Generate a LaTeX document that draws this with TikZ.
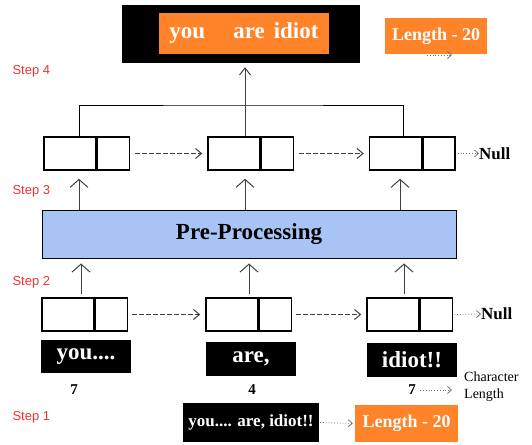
\documentclass[tikz,border=0pt]{standalone}
\usepackage{fontspec}
\setmainfont{Liberation Serif}
\newfontfamily\stepfont{Liberation Sans}
\usetikzlibrary{arrows.meta}

\definecolor{boxorange}{HTML}{FF8329}
\definecolor{ppblue}{HTML}{A8C4F5}
\definecolor{stepred}{HTML}{F23232}

\tikzset{
  cellL/.style={draw, line width=1.5pt, minimum width=52pt, minimum height=33pt, inner sep=0pt},
  cellR/.style={cellL, minimum width=32pt, anchor=west},
  wordbox/.style={fill=black, text=white, inner sep=0pt, font=\fontsize{23}{25}\selectfont\bfseries},
  lenbox/.style={fill=boxorange, text=white, inner sep=0pt, minimum width=103pt, minimum height=37pt, font=\fontsize{18}{20}\selectfont\bfseries},
  steplab/.style={text=stepred, font=\stepfont\fontsize{13}{15}\selectfont},
  upline/.style={draw=black!75, line width=1pt, -{Straight Barb[length=8pt,width=18pt]}},
  nextline/.style={draw=black!75, dash pattern=on 4.5pt off 2.5pt, line width=1pt, -{Straight Barb[length=6pt,width=10pt]}},
  lenline/.style={draw=black!55, dotted, line width=0.8pt, -{Straight Barb[length=4pt,width=7pt]}},
}

\begin{document}
\begin{tikzpicture}[x=1pt, y=-1pt]
    \useasboundingbox (0,0) rectangle (532,444);

    % step 4: output
    \node[fill=black, minimum width=238pt, minimum height=58pt] (out) at (241,34) {};
    \node[wordbox, fill=boxorange, minimum width=170pt, minimum height=41pt] (outtext) at (244,33.5)
      {you\hspace{28pt}are\hspace{9pt}idiot};
    \node[lenbox, minimum width=102pt, minimum height=36pt] (len1) at (436,36) {Length - 20};
    \coordinate (len1a) at (427,55);
    \coordinate (len1b) at (452,55);
    \draw[lenline] (len1a) -- (len1b);

    \node[steplab, anchor=west] (s4) at (9,71) {Step 4};
    \node[steplab, anchor=west] (s3) at (9,191) {Step 3};
    \node[steplab, anchor=west] (s2) at (9,282) {Step 2};
    \node[steplab, anchor=west] (s1) at (9,417) {Step 1};

    % step 3: cleaned list
    \node[cellL] (t1) at (70,153.5) {};
    \node[cellR] (t1r) at (t1.east) {};
    \node[cellL] (t2) at (234,153.5) {};
    \node[cellR] (t2r) at (t2.east) {};
    \node[cellL] (t3) at (395.5,153.5) {};
    \node[cellR] (t3r) at (t3.east) {};
    \draw[nextline, shorten <=5pt, shorten >=5pt] (t1r.east) -- (t2.west);
    \draw[nextline, shorten <=5pt, shorten >=5pt] (t2r.east) -- (t3.west);
    \node[anchor=west, inner sep=0pt, font=\fontsize{17}{19}\selectfont\bfseries] (null1) at (479,153.5) {Null};
    \draw[lenline, shorten <=2pt] (t3r.east) -- (null1.west);

    \coordinate (j) at (245,105);
    \draw[line width=0.9pt] (79,137 |- t1.north) |- (j) -| (403,137 |- t3.north);
    \draw[draw=black!75, line width=1pt, -{Straight Barb[length=7pt,width=11pt]}, shorten >=4pt]
      (j |- t2.north) -- (j |- out.south);

    % pre-processing
    \node[draw, fill=ppblue, line width=0.9pt, minimum width=414pt, minimum height=48pt,
      font=\fontsize{23}{25}\selectfont\bfseries] (pre) at (249,234) {Pre-Processing};

    \coordinate (c1) at (79,0);
    \coordinate (c2) at (245,0);
    \coordinate (c3) at (400,0);
    \draw[upline, shorten >=8pt] (pre.north -| c1) -- (t1.south -| c1);
    \draw[upline, shorten >=8pt] (pre.north -| c2) -- (t2.south -| c2);
    \draw[upline, shorten >=8pt] (pre.north -| c3) -- (t3.south -| c3);

    % step 2: word list
    \node[cellL] (b1) at (68,314.5) {};
    \node[cellR] (b1r) at (b1.east) {};
    \node[cellL] (b2) at (232,314.5) {};
    \node[cellR] (b2r) at (b2.east) {};
    \node[cellL] (b3) at (393,314.5) {};
    \node[cellR] (b3r) at (b3.east) {};
    \draw[nextline, shorten <=4pt, shorten >=5pt] (b1r.east) -- (b2.west);
    \draw[nextline, shorten <=4pt, shorten >=5pt] (b2r.east) -- (b3.west);
    \node[anchor=west, inner sep=0pt, font=\fontsize{17}{19}\selectfont\bfseries] (null2) at (481,314) {Null};
    \draw[lenline, shorten <=1pt] (b3r.east) -- (null2.west);

    \coordinate (d1) at (81,0);
    \coordinate (d2) at (249,0);
    \coordinate (d3) at (404,0);
    \draw[upline, shorten <=3pt, shorten >=5pt] (b1.north -| d1) -- (pre.south -| d1);
    \draw[upline, shorten <=3pt, shorten >=5pt] (b2.north -| d2) -- (pre.south -| d2);
    \draw[upline, shorten <=3pt, shorten >=5pt] (b3.north -| d3) -- (pre.south -| d3);

    % words
    \node[wordbox, minimum width=90pt, minimum height=33pt] (w1) at (86,356.5) {you....};
    \node[wordbox, minimum width=90pt, minimum height=34pt] (w2) at (251,359) {are,};
    \node[wordbox, minimum width=90pt, minimum height=34pt] (w3) at (412,360) {idiot!!};

    \node[font=\fontsize{15}{17}\selectfont\bfseries] (n1) at (74,390) {7};
    \node[font=\fontsize{15}{17}\selectfont\bfseries] (n2) at (252,390) {4};
    \node[font=\fontsize{15}{17}\selectfont\bfseries] (n3) at (412,390) {7};
    \node[anchor=west, align=left, inner sep=0pt, font=\fontsize{14}{17}\selectfont] (chlen) at (464,387)
      {Character\\Length};
    \draw[lenline, shorten <=1pt, shorten >=12pt] (n3.east) -- (chlen.west |- n3.east);

    % step 1: input
    \node[wordbox, minimum width=136pt, minimum height=39pt, font=\fontsize{17}{19}\selectfont\bfseries]
      (inp) at (251,422.5) {you.... are, idiot!!};
    \node[lenbox] (len2) at (406.5,423.5) {Length - 20};
    \draw[lenline, shorten <=1pt, shorten >=2pt] (inp.east) -- (len2.west);
\end{tikzpicture}
\end{document}
